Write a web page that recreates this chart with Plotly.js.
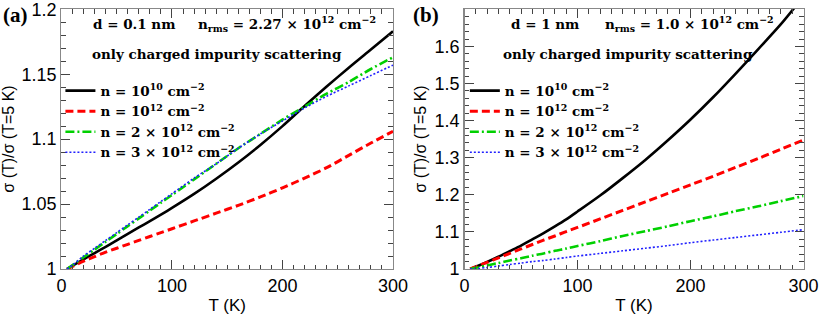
<!DOCTYPE html>
<html>
<head>
<meta charset="utf-8">
<script src="https://cdn.plot.ly/plotly-3.0.1.min.js"></script>
<style>html,body{margin:0;padding:0;background:#fff;}#chart{width:822px;height:315px;}</style>
</head>
<body>
<div id="chart"></div>
<script>
// Temperature grid (K)
const T = [5,10,20,30,40,50,60,70,80,90,100,120,140,160,180,200,220,240,260,280,300];

// Panel (a): d = 0.1 nm, n_rms = 2.27e12
const a_n1e10 = [1.000,1.0025,1.0075,1.0123,1.0171,1.022,1.027,1.032,1.0368,1.0418,1.047,1.0578,1.0695,1.082,1.0955,1.110,1.1255,1.1405,1.155,1.169,1.183];
const a_n1e12 = [1.000,1.002,1.006,1.0095,1.013,1.016,1.019,1.022,1.025,1.028,1.031,1.037,1.043,1.049,1.0555,1.0625,1.070,1.078,1.0875,1.097,1.106];
const a_n2e12 = [1.000,1.003,1.009,1.015,1.021,1.027,1.033,1.039,1.045,1.051,1.057,1.069,1.081,1.093,1.104,1.115,1.125,1.135,1.144,1.154,1.163];
const a_n3e12 = [1.000,1.003,1.010,1.016,1.022,1.028,1.034,1.040,1.046,1.052,1.058,1.070,1.081,1.093,1.104,1.114,1.124,1.133,1.141,1.149,1.157];

// Panel (b): d = 1 nm, n_rms = 1.0e12
const b_n1e10 = [1.000,1.006,1.019,1.033,1.048,1.063,1.080,1.097,1.115,1.134,1.155,1.198,1.245,1.294,1.347,1.403,1.463,1.527,1.593,1.660,1.735];
const b_n1e12 = [1.000,1.006,1.018,1.030,1.042,1.054,1.066,1.078,1.089,1.101,1.112,1.135,1.158,1.181,1.204,1.227,1.250,1.274,1.298,1.323,1.348];
const b_n2e12 = [1.000,1.003,1.010,1.016,1.023,1.029,1.036,1.042,1.049,1.055,1.062,1.075,1.089,1.102,1.115,1.129,1.142,1.156,1.169,1.183,1.197];
const b_n3e12 = [1.000,1.001,1.004,1.008,1.012,1.016,1.020,1.023,1.027,1.031,1.035,1.042,1.049,1.056,1.063,1.071,1.078,1.085,1.092,1.099,1.106];

const seriesNames = [
  'n = 10<sup>10</sup> cm<sup>−2</sup>',
  'n = 10<sup>12</sup> cm<sup>−2</sup>',
  'n = 2 × 10<sup>12</sup> cm<sup>−2</sup>',
  'n = 3 × 10<sup>12</sup> cm<sup>−2</sup>'
];

// Tick labels
const xTickVals = [0,100,200,300];
const xTickText = ['0','100','200','300'];
const aYTickVals = [1,1.05,1.1,1.15,1.2];
const aYTickText = ['1','1.05','1.1','1.15','1.2'];
const bYTickVals = [1,1.1,1.2,1.3,1.4,1.5,1.6];
const bYTickText = ['1','1.1','1.2','1.3','1.4','1.5','1.6'];

const styles = [
  {color:'#000000', width:2.6, dash:'solid'},
  {color:'#ff0000', width:3, dash:'8px,4px'},
  {color:'#00d000', width:2.6, dash:'9px,3px,2px,3px'},
  {color:'#2020ff', width:1.6, dash:'2px,2px'}
];

function mk(y, i, xa, ya, leg) {
  return {x:T, y:y, type:'scatter', mode:'lines', name:seriesNames[i],
    xaxis:xa, yaxis:ya, legend:leg, legendgroup:leg+i,
    line:{color:styles[i].color, width:styles[i].width, dash:styles[i].dash, shape:'spline', smoothing:0.8}};
}

const data = [
  mk(a_n1e10,0,'x','y','legend'), mk(a_n1e12,1,'x','y','legend'),
  mk(a_n2e12,2,'x','y','legend'), mk(a_n3e12,3,'x','y','legend'),
  mk(b_n1e10,0,'x2','y2','legend2'), mk(b_n1e12,1,'x2','y2','legend2'),
  mk(b_n2e12,2,'x2','y2','legend2'), mk(b_n3e12,3,'x2','y2','legend2')
];

const tickFont = {family:'Liberation Sans, Arial, sans-serif', size:18, color:'#000'};
const titleFont = {family:'Liberation Sans, Arial, sans-serif', size:17, color:'#000'};
const yTitleFont = {family:'Liberation Sans, Arial, sans-serif', size:16, color:'#000'};
const serif = {family:'DejaVu Serif, serif', size:13.5, color:'#000', weight:'bold'};
const panelFont = {family:'Liberation Serif, serif', size:21, color:'#000', weight:'bold'};

function xax(dom, anchor) {
  return {domain:dom, anchor:anchor, range:[0,300], tickvals:xTickVals, ticktext:xTickText,
    ticks:'inside', ticklen:9, tickwidth:1, tickcolor:'#444', showline:true, linecolor:'#888', linewidth:1.3,
    mirror:'ticks', showgrid:false, zeroline:false, tickfont:tickFont, ticklabeloverflow:'allow',
    minor:{dtick:10, ticks:'inside', ticklen:4.5, tickcolor:'#444', tickwidth:1, showgrid:false},
    title:{text:'T (K)', font:titleFont, standoff:4}};
}
function yax(range, tv, tt, mdt, anchor) {
  return {domain:[0,1], anchor:anchor, range:range, tickvals:tv, ticktext:tt,
    ticks:'inside', ticklen:9, tickwidth:1, tickcolor:'#444', showline:true, linecolor:'#888', linewidth:1.3,
    mirror:'ticks', showgrid:false, zeroline:false, tickfont:tickFont, ticklabeloverflow:'allow',
    minor:{dtick:mdt, tick0:1, ticks:'inside', ticklen:4.5, tickcolor:'#444', tickwidth:1, showgrid:false},
    title:{text:'σ (T)/σ (T=5 K)', font:yTitleFont, standoff:4}};
}

const legBase = {bgcolor:'rgba(0,0,0,0)', borderwidth:0, font:serif, tracegroupgap:3,
  xanchor:'left', yanchor:'top', traceorder:'normal'};

const layout = {
  width:822, height:315,
  margin:{l:0, r:0, t:9, b:46},
  paper_bgcolor:'#fff', plot_bgcolor:'#fff',
  showlegend:true,
  xaxis:xax([0.0748,0.4781],'y'),
  yaxis:yax([1,1.2002], aYTickVals, aYTickText, 0.01, 'x'),
  xaxis2:xax([0.5651,0.9775],'y2'),
  yaxis2:yax([1,1.701], bYTickVals, bYTickText, 0.02, 'x2'),
  legend:Object.assign({}, legBase, {x:0.0735, y:0.745}),
  legend2:Object.assign({}, legBase, {x:0.5655, y:0.745}),
  annotations:[
    {xref:'x', yref:'y', x:26.8, y:1.1887, xanchor:'left', text:'d = 0.1 nm', showarrow:false, font:serif},
    {xref:'x', yref:'y', x:121.7, y:1.1887, xanchor:'left', text:'n<sub>rms</sub> = 2.27 × 10<sup>12</sup> cm<sup>−2</sup>', showarrow:false, font:serif},
    {xref:'x', yref:'y', x:140.7, y:1.1656, text:'only charged impurity scattering', showarrow:false, font:serif},
    {xref:'x2', yref:'y2', x:39.4, y:1.661, xanchor:'left', text:'d = 1 nm', showarrow:false, font:serif},
    {xref:'x2', yref:'y2', x:122.6, y:1.661, xanchor:'left', text:'n<sub>rms</sub> = 1.0 × 10<sup>12</sup> cm<sup>−2</sup>', showarrow:false, font:serif},
    {xref:'x2', yref:'y2', x:144.7, y:1.580, text:'only charged impurity scattering', showarrow:false, font:serif},
    {xref:'paper', yref:'paper', x:0.001, y:1.031, xanchor:'left', yanchor:'top', text:'(a)', showarrow:false, font:panelFont},
    {xref:'paper', yref:'paper', x:0.4995, y:1.031, xanchor:'left', yanchor:'top', text:'(b)', showarrow:false, font:panelFont}
  ]
};

Plotly.newPlot('chart', data, layout, {staticPlot:true, displayModeBar:false});
</script>
</body>
</html>
